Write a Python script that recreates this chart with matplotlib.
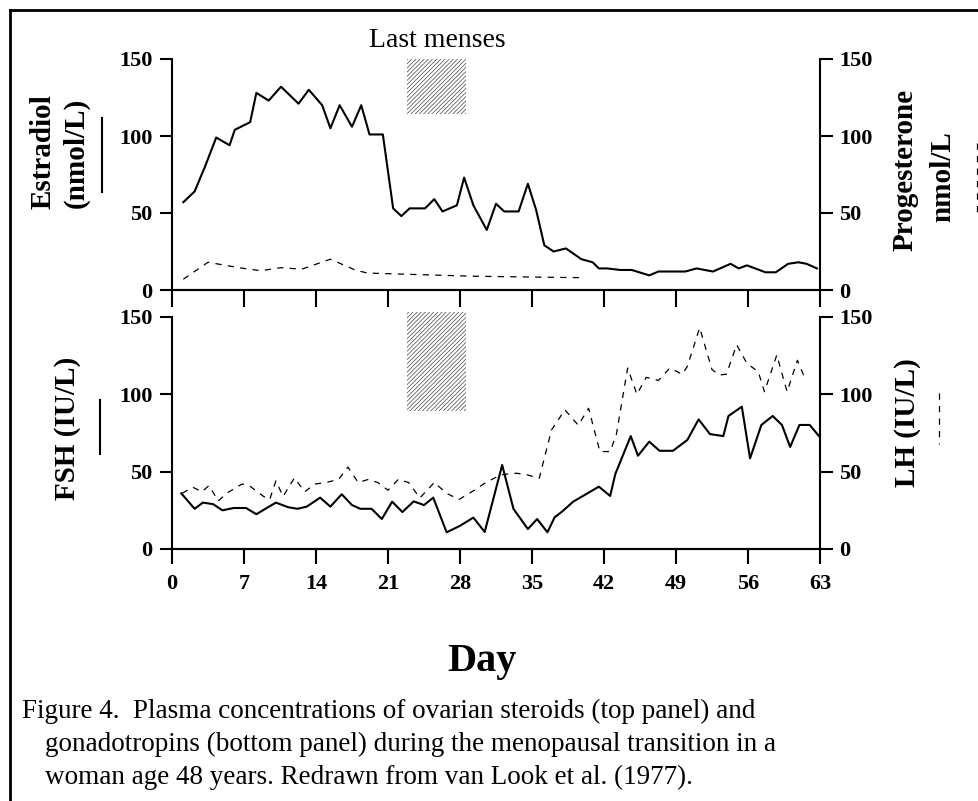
import matplotlib
matplotlib.use("Agg")
import matplotlib.pyplot as plt
from matplotlib.patches import Rectangle
from matplotlib.lines import Line2D

plt.rcParams['font.family'] = ['Liberation Serif', 'DejaVu Serif']
plt.rcParams['hatch.linewidth'] = 0.5

# --- data (day, concentration) ---
estradiol_day = [1.1, 2.2, 3.2, 4.3, 5.6, 6.1, 7.6, 8.2, 9.4, 10.6,
                 12.3, 13.3, 14.6, 15.4, 16.3, 17.5, 18.4, 19.2, 20.5, 21.5,
                 22.3, 23.1, 24.6, 25.5, 26.3, 27.7, 28.4, 29.3, 30.6, 31.5,
                 32.3, 33.7, 34.6, 35.4, 36.2, 37.1, 38.3, 39.8, 40.9, 41.5,
                 42.3, 43.6, 44.7, 46.4, 47.3, 49.9, 51.0, 52.6, 54.3, 55.1,
                 55.9, 57.7, 58.7, 59.9, 60.9, 61.7, 62.7]
estradiol = [57, 64, 80, 99, 94, 104, 109, 128, 123, 132,
             121, 130, 120, 105, 120, 106, 120, 101, 101, 53,
             48, 53, 53, 59, 51, 55, 73, 55, 39, 56,
             51, 51, 69, 52, 29, 25, 27, 20, 18, 14,
             14, 13, 13, 9.5, 12, 12, 14, 12, 17, 14,
             16, 11.5, 11.5, 17, 18, 17, 14]

progesterone_day = [1.1, 3.5, 6.5, 8.6, 10.6, 12.6, 15.4, 17.8, 19.0, 24.0, 29.0, 34.0, 39.8]
progesterone = [7, 18, 14.5, 12.5, 14.5, 13.5, 20, 13, 11, 10, 9, 8.5, 8]

fsh_day = [0.9, 2.2, 3.0, 4.0, 4.9, 6.0, 7.2, 8.2, 10.1, 11.3,
           12.2, 13.1, 14.4, 15.4, 16.5, 17.5, 18.3, 19.4, 20.4, 21.4,
           22.4, 23.5, 24.5, 25.4, 26.7, 28.0, 29.3, 30.4, 32.1, 33.2,
           34.6, 35.5, 36.5, 37.2, 38.0, 39.0, 40.5, 41.5, 42.6, 43.1,
           44.6, 45.3, 46.4, 47.4, 48.7, 50.1, 51.2, 52.3, 53.6, 54.1,
           55.4, 56.2, 57.3, 58.4, 59.3, 60.1, 61.0, 62.0, 63.0]
fsh = [36, 26, 30, 29, 25, 26.5, 26.5, 22.5, 30, 27,
       26, 27.4, 33.2, 27.4, 35.4, 28.4, 26, 26, 19.4, 30.6,
       23.9, 30.8, 28.4, 33.2, 10.8, 15, 20.3, 11, 54.3, 25.9,
       12.9, 19.4, 10.8, 20.5, 24.6, 30.6, 36.4, 40.3, 34.3, 48.5,
       73, 60.3, 69.4, 63.5, 63.5, 70.5, 83.8, 74.3, 73, 86,
       92, 58.6, 80.2, 86, 80.2, 66, 80.2, 80.2, 72.2]

lh_day = [1.0, 2.0, 2.9, 3.6, 4.5, 5.3, 6.8, 7.5, 8.9, 9.5,
          10.1, 10.8, 11.9, 12.9, 13.9, 15.0, 16.2, 17.1, 18.1, 19.1,
          20.0, 21.0, 22.0, 23.0, 24.1, 25.5, 26.7, 27.9, 29.4, 30.5,
          32.0, 33.5, 34.5, 35.7, 36.9, 38.2, 39.5, 40.5, 41.6, 42.6,
          43.2, 44.3, 45.2, 46.1, 47.3, 48.4, 49.6, 50.1, 51.3, 52.5,
          53.2, 53.9, 54.9, 55.9, 57.0, 57.6, 58.8, 59.8, 60.8, 61.4,
          61.9]
lh = [36, 40, 37, 41, 31, 36, 42, 41, 34, 32,
      44, 34, 46, 37, 42, 43, 45, 53, 43, 45,
      43, 38, 45, 43, 33, 43, 36, 32, 38, 43,
      48, 49, 48, 45.7, 77, 90, 80, 91, 63, 63,
      74, 117, 100, 111, 109, 117, 113, 118, 143, 116,
      112.5, 113, 132, 120, 114.6, 101.7, 125.4, 101.7, 122, 112.5,
      113]

day_ticks = [0, 7, 14, 21, 28, 35, 42, 49, 56, 63]
conc_ticks = [0, 50, 100, 150]
menses_days = (22.8, 28.6)   # shaded "last menses" interval

W, H = 979, 801
fig = plt.figure(figsize=(W / 100, H / 100), dpi=100)

def px(x, y):
    return x / W, 1 - y / H

dash = (0, (5, 5))

def style(ax, side, xlen, labels):
    ax.set_xlim(0, 63)
    ax.set_ylim(0, 150)
    ax.set_xticks(day_ticks)
    ax.set_yticks(conc_ticks)
    for s in ax.spines.values():
        s.set_linewidth(1.5)
    ax.spines['top'].set_visible(False)
    if side == 'left':
        ax.spines['right'].set_visible(False)
    else:
        ax.spines['left'].set_visible(False)
    ax.tick_params(axis='x', direction='out', length=xlen, width=1.5, pad=7,
                   labelbottom=labels, labelsize=16)
    ax.tick_params(axis='y', direction='out', length=9, width=1.5, pad=5, labelsize=16)
    for t in ax.get_xticklabels() + ax.get_yticklabels():
        t.set_fontweight('bold')
    ax.patch.set_visible(False)

# top panel: ovarian steroids
ax1 = fig.add_axes([172 / W, 1 - 290 / H, 648 / W, 231 / H])
ax1.plot(estradiol_day, estradiol, color='black', lw=1.5)
ax1.add_patch(Rectangle((menses_days[0], 114), menses_days[1] - menses_days[0], 36,
                        facecolor='white', edgecolor='#444444', hatch='////////',
                        lw=0, clip_on=False))
style(ax1, 'left', 12, False)
ax1r = ax1.twinx()
ax1r.plot(progesterone_day, progesterone, color='black', lw=0.9, linestyle=dash)
style(ax1r, 'right', 12, False)

# bottom panel: gonadotropins
ax2 = fig.add_axes([172 / W, 1 - 549 / H, 648 / W, 232 / H])
ax2.plot(fsh_day, fsh, color='black', lw=1.5)
ax2.add_patch(Rectangle((menses_days[0], 89), menses_days[1] - menses_days[0], 64,
                        facecolor='white', edgecolor='#444444', hatch='////////',
                        lw=0, clip_on=False))
style(ax2, 'left', 11, True)
ax2r = ax2.twinx()
ax2r.plot(lh_day, lh, color='black', lw=0.9, linestyle=dash)
style(ax2r, 'right', 11, False)

# axis titles
lab = dict(fontsize=21, fontweight='bold', rotation=90, ha='center', va='center')
fig.text(*px(43, 152), 'Estradiol', **lab)
fig.text(*px(76, 153), '(nmol/L)', **lab)
fig.text(*px(905, 170), 'Progesterone', **lab)
fig.text(*px(943, 177), 'nmol/L', **lab)
fig.text(*px(68, 428), 'FSH (IU/L)', **lab)
fig.text(*px(908, 423), 'LH (IU/L)', **lab)

# little line-style keys next to the axis titles
fig.add_artist(Line2D([102 / W, 102 / W], [1 - 118 / H, 1 - 192 / H], color='black', lw=1.5))
fig.add_artist(Line2D([100 / W, 100 / W], [1 - 400 / H, 1 - 454 / H], color='black', lw=1.5))
fig.add_artist(Line2D([977 / W, 977 / W], [1 - 143 / H, 1 - 213 / H], color='black', lw=0.9, linestyle=dash))
fig.add_artist(Line2D([939 / W, 939 / W], [1 - 393 / H, 1 - 444 / H], color='black', lw=0.9, linestyle=dash))

fig.text(*px(437, 47), 'Last menses', fontsize=20, ha='center', va='baseline')
fig.text(*px(482, 662), 'Day', fontsize=29, fontweight='bold', ha='center', va='center')

cap = dict(fontsize=19.5, ha='left', va='center')
fig.text(*px(22, 711), 'Figure 4.  Plasma concentrations of ovarian steroids (top panel) and', **cap)
fig.text(*px(45, 744), 'gonadotropins (bottom panel) during the menopausal transition in a', **cap)
fig.text(*px(45, 777), 'woman age 48 years. Redrawn from van Look et al. (1977).', **cap)

# frame around the figure
fig.add_artist(Line2D([10 / W, 10 / W], [1 - 10 / H, 0], color='black', lw=2))
fig.add_artist(Line2D([10 / W, 1], [1 - 10 / H, 1 - 10 / H], color='black', lw=2))

fig.savefig('out.png', dpi=100)
